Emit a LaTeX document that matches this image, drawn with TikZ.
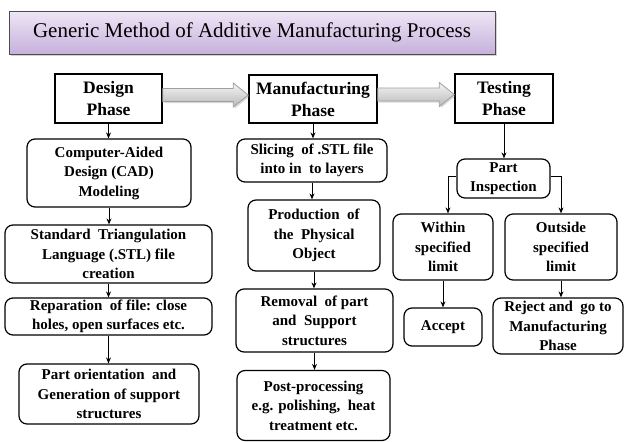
\documentclass[tikz,border=0pt]{standalone}
\usepackage{fontspec}
\setmainfont{Liberation Serif}
\usetikzlibrary{calc,shadows,arrows.meta}

\definecolor{titletop}{HTML}{EEE7F6}
\definecolor{titlebot}{HTML}{C6B0DC}

\tikzset{
  titlebox/.style={draw=black!70, line width=0.8pt, top color=titletop, bottom color=titlebot,
    font=\fontsize{21}{24}\selectfont, inner sep=0pt,
    drop shadow={shadow xshift=2pt, shadow yshift=-2pt, opacity=0.35}},
  phase/.style={draw, line width=1.5pt, align=center, inner sep=0pt,
    font=\fontsize{17.5}{22}\selectfont\bfseries},
  stagebox/.style={draw, rounded corners=8pt, line width=1.2pt, align=center, inner sep=0pt,
    font=\fontsize{15}{19.5}\selectfont\bfseries},
  flow/.style={-{Stealth[length=6pt,width=5pt]}, line width=1pt},
  phasearrow/.style={draw=gray!75, line width=0.8pt, top color=gray!8, bottom color=gray!55,
    drop shadow={shadow xshift=1.5pt, shadow yshift=-1.5pt, opacity=0.3}},
}

% wide shaded arrow between two phase boxes, #3 = lift of its axis
\newcommand{\phasearrow}[3]{%
  \path[phasearrow] let \p1=(#1.east), \p2=(#2.west) in
    (\x1,\y1+#3+6.5pt) -- (\x2-15pt,\y1+#3+6.5pt) -- (\x2-15pt,\y1+#3+12pt)
    -- (\x2,\y1+#3) -- (\x2-15pt,\y1+#3-12pt) -- (\x2-15pt,\y1+#3-6.5pt)
    -- (\x1,\y1+#3-6.5pt) -- cycle;}

\begin{document}
\begin{tikzpicture}[x=1pt,y=-1pt]
  %%%%% START %%%%%
  \useasboundingbox (0,0) rectangle (625,442);

  \node[titlebox, minimum width=486pt, minimum height=43pt] (title) at (252,32.5)
    {Generic Method of Additive Manufacturing Process};

  % phases
  \node[phase, minimum width=107pt, minimum height=49pt] (design) at (108.5,98.5) {Design\\Phase};
  \node[phase, minimum width=128pt, minimum height=48pt] (manuf) at (313,99) {Manufacturing\\Phase};
  \node[phase, minimum width=98pt, minimum height=49pt] (testing) at (504,98.5) {Testing\\Phase};

  \phasearrow{design}{manuf}{3.5pt}
  \phasearrow{manuf}{testing}{4.5pt}

  % design column
  \node[stagebox, minimum width=164pt, minimum height=68pt] (cad) at (109,173)
    {Computer-Aided\\Design (CAD)\\Modeling};
  \node[stagebox, minimum width=207pt, minimum height=58pt] (stl) at (108.5,254)
    {Standard\ \ Triangulation\\Language (.STL) file\\creation};
  \node[stagebox, minimum width=207pt, minimum height=37pt] (repair) at (108.5,316.5)
    {Reparation\ \ of file: close\\holes, open surfaces etc.};
  \node[stagebox, minimum width=180pt, minimum height=60pt] (orient) at (109,394)
    {Part orientation\ \ and\\Generation of support\\structures};

  % manufacturing column
  \node[stagebox, minimum width=150pt, minimum height=43pt] (slice) at (312,160.5)
    {Slicing\ \ of .STL file\\into in\ \ to layers};
  \node[stagebox, minimum width=132pt, minimum height=71pt] (produce) at (314,235.5)
    {Production\ \ of\\the\ \ Physical\\Object};
  \node[stagebox, minimum width=157pt, minimum height=63pt] (removal) at (314.5,320.5)
    {Removal\ \ of part\\and\ \ Support\\structures};
  \node[stagebox, minimum width=153pt, minimum height=70pt] (post) at (313.5,405.5)
    {Post-processing\\e.g. polishing,\ \ heat\\treatment etc.};

  % testing column
  \node[stagebox, minimum width=93pt, minimum height=39pt] (inspect) at (503.5,178.5)
    {Part\\Inspection};
  \node[stagebox, minimum width=100pt, minimum height=66pt] (within) at (443,247)
    {Within\\specified\\limit};
  \node[stagebox, minimum width=112pt, minimum height=66pt] (outside) at (561,247)
    {Outside\\specified\\limit};
  \node[stagebox, minimum width=78pt, minimum height=38pt] (accept) at (443,327) {Accept};
  \node[stagebox, minimum width=130pt, minimum height=56pt] (reject) at (558,326)
    {Reject and\ \ go to\\Manufacturing\\Phase};

  % connectors
  \draw[flow] (design.south) -- (design.south |- cad.north);
  \draw[flow] (cad.south) -- (cad.south |- stl.north);
  \draw[flow] (stl.south) -- (stl.south |- repair.north);
  \draw[flow] (repair.south) -- (repair.south |- orient.north);

  \draw[flow] (manuf.south) -- (manuf.south |- slice.north);
  \draw[flow] (slice.south) -- (slice.south |- produce.north);
  \draw[flow] (produce.south) -- (produce.south |- removal.north);
  \draw[flow] (removal.south) -- (removal.south |- post.north);

  \draw[flow] (testing.south) -- (testing.south |- inspect.north);
  \draw[flow] ($(inspect.west)+(0,-2.5)$) -| ($(within.north)+(5,0)$);
  \draw[flow] ($(inspect.east)+(0,-2.5)$) -| (outside.north);
  \draw[flow] (within.south) -- (within.south |- accept.north);
  \draw[flow] (outside.south) -- (outside.south |- reject.north);
  %%%%% END %%%%%
\end{tikzpicture}
\end{document}
